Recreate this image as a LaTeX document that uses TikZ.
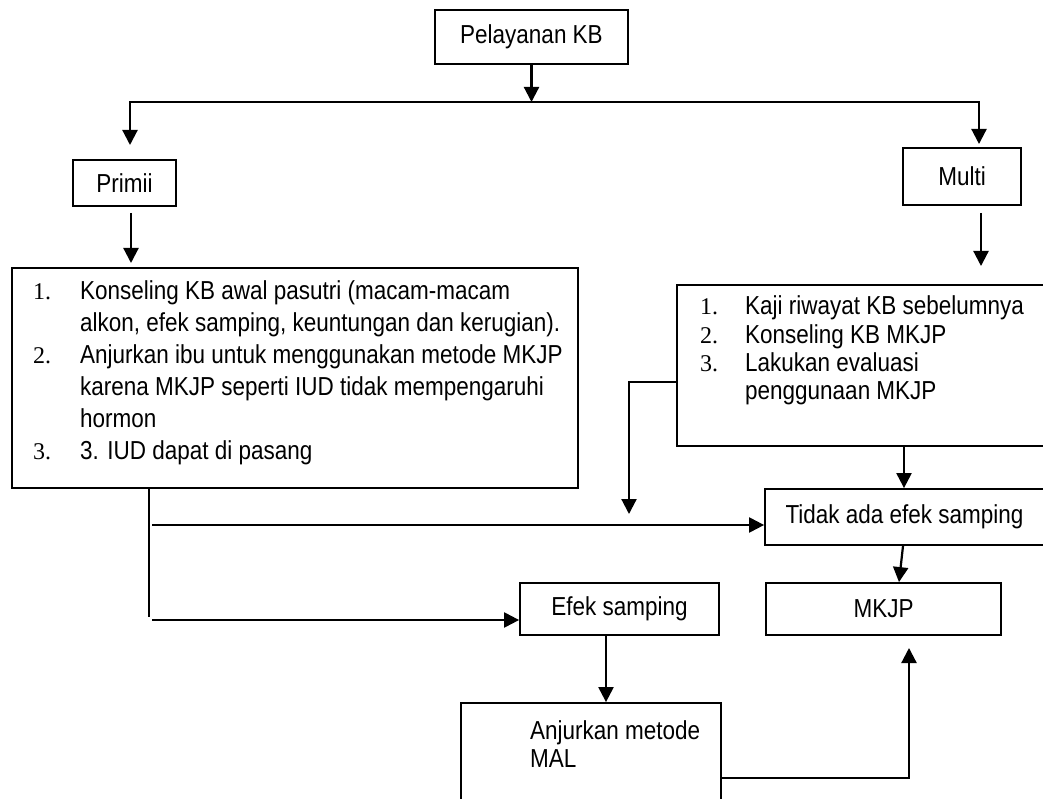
\documentclass[tikz,border=0pt]{standalone}
\usepackage{fontspec}
\setmainfont[FakeStretch=0.865]{Liberation Sans}
\newfontfamily\numfont{Liberation Serif}
\usetikzlibrary{arrows.meta}
\begin{document}
\begin{tikzpicture}[x=1pt,y=-1pt,
  box/.style={draw, line width=1.8pt, inner sep=0pt, font=\fontsize{26}{30}\selectfont},
  txt/.style={inner sep=0pt, anchor=base west, font=\fontsize{26}{30}\selectfont},
  num/.style={inner sep=0pt, anchor=base west, font=\fontsize{24}{28}\numfont},
  arr/.style={line width=2.2pt, -{Triangle[length=15pt,width=15pt]}},
  arrtwo/.style={line width=2.2pt, {Triangle[length=15pt,width=15pt]}-{Triangle[length=15pt,width=15pt]}},
  ln/.style={line width=2.2pt}]
\clip (0,0) rectangle (1043,799);
\fill[white] (0,0) rectangle (1043,799);
% boxes
\node[box, minimum width=193pt, minimum height=54pt] (pel) at (531.5,37) {Pelayanan KB};
\node[box, minimum width=103pt, minimum height=46pt] (primii) at (124.5,183) {Primii};
\node[box, minimum width=118pt, minimum height=57pt] (multi) at (962,176.5) {Multi};
\node[box, minimum width=566pt, minimum height=220pt] (lbox) at (295,378) {};
\node[box, minimum width=367pt, minimum height=161pt] (rbox) at (860.5,365.5) {};
\node[box, minimum width=279pt, minimum height=56pt] (tidak) at (904.5,517) {Tidak ada efek samping};
\node[box, minimum width=199pt, minimum height=52pt] (efek) at (619.5,609) {Efek samping};
\node[box, minimum width=235pt, minimum height=52pt] (mkjp) at (883.5,609) {MKJP};
\node[box, minimum width=260pt, minimum height=140pt] (mal) at (591,773) {};
% left box text
\node[num] (l1n) at (33,299) {1.};
\node[txt] (l1a) at (80,299) {Konseling KB awal pasutri (macam-macam};
\node[txt] (l1b) at (80,331) {alkon, efek samping, keuntungan dan kerugian).};
\node[num] (l2n) at (33,363) {2.};
\node[txt] (l2a) at (80,363) {Anjurkan ibu untuk menggunakan metode MKJP};
\node[txt] (l2b) at (80,395) {karena MKJP seperti IUD tidak mempengaruhi};
\node[txt] (l2c) at (80,427) {hormon};
\node[num] (l3n) at (33,459) {3.};
\node[txt] (l3a) at (80,459) {3. IUD dapat di pasang};
% right box text
\node[num] (r1n) at (700,315) {1.};
\node[txt] (r1a) at (745,315) {Kaji riwayat KB sebelumnya};
\node[num] (r2n) at (700,343) {2.};
\node[txt] (r2a) at (745,343) {Konseling KB MKJP};
\node[num] (r3n) at (700,371) {3.};
\node[txt] (r3a) at (745,371) {Lakukan evaluasi};
\node[txt] (r3b) at (745,399) {penggunaan MKJP};
% MAL text
\node[txt] (m1a) at (530,739) {Anjurkan metode};
\node[txt] (m1b) at (530,767) {MAL};
% connectors
\coordinate (p1) at (531.5,102);
\coordinate (p2) at (130,102);
\coordinate (p3) at (979,102);
\coordinate (p4) at (130,145);
\coordinate (p5) at (979,144);
\draw[arr] (pel.south) -- (p1);
\draw[arrtwo] (p4) -- (p2) -- (p3) -- (p5);
\coordinate (q1) at (131,213);
\coordinate (q2) at (131,263);
\draw[arr] (q1) -- (q2);
\coordinate (q3) at (981,213);
\coordinate (q4) at (981,266);
\draw[arr] (q3) -- (q4);
\coordinate (d0) at (149,488);
\coordinate (d1) at (149,617);
\draw[ln] (d0) -- (d1);
\coordinate (h1) at (152,525);
\draw[arr] (h1) -- (h1 -| tidak.west);
\coordinate (h2) at (152,620);
\draw[arr] (h2) -- (h2 -| efek.west);
\coordinate (s0) at (677,382);
\coordinate (s1) at (629,382);
\coordinate (s2) at (629,514);
\draw[arr] (s0 -| rbox.west) -- (s1) -- (s2);
\coordinate (t0) at (904,446);
\draw[arr] (t0 |- rbox.south) -- (t0 |- tidak.north);
\draw[arr] ([xshift=-1.5pt]tidak.south) -- ([xshift=15.5pt]mkjp.north);
\draw[arr] ([xshift=-13.5pt]efek.south) -- ([xshift=15pt]mal.north);
\coordinate (m1) at (909,778);
\coordinate (m2) at (909,648);
\draw[arr] (mal.east |- m1) -- (m1) -- (m2);
\end{tikzpicture}
\end{document}
